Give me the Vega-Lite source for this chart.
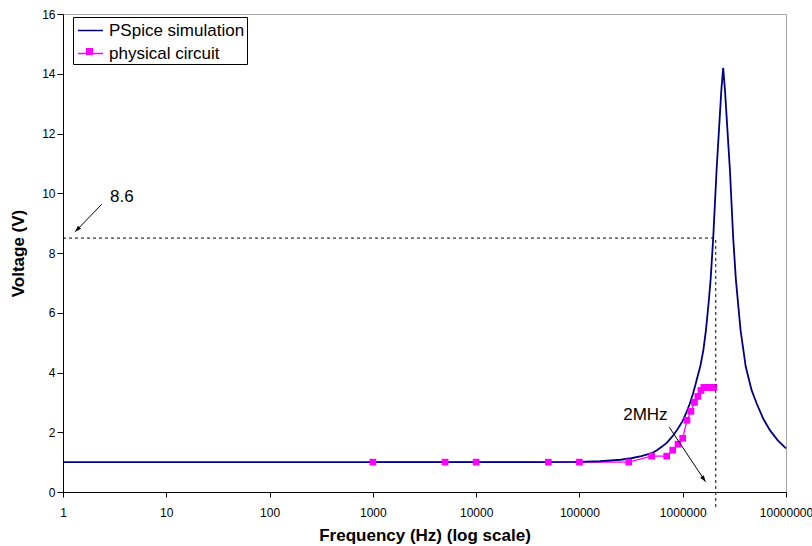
{
  "$schema": "https://vega.github.io/schema/vega-lite/v6.json",
  "width": 723,
  "height": 478,
  "autosize": {"type": "none"},
  "padding": {"left": 63, "top": 14, "right": 26, "bottom": 54},
  "config": {
    "font": "Liberation Sans",
    "view": {"stroke": "#a6a6a6", "strokeWidth": 1},
    "axis": {
      "grid": false,
      "domainColor": "black",
      "tickColor": "black",
      "labelColor": "black",
      "titleColor": "black",
      "labelFont": "Liberation Sans",
      "titleFont": "Liberation Sans",
      "labelFontSize": 12,
      "titleFontSize": 17,
      "titleFontWeight": "bold",
      "labelFlush": false,
      "labelOverlap": false,
      "labelBound": false
    }
  },
  "datasets": {
    "sim": [
      {"f": 1, "v": 1.0, "s": "PSpice simulation"},
      {"f": 10, "v": 1.0, "s": "PSpice simulation"},
      {"f": 100, "v": 1.0, "s": "PSpice simulation"},
      {"f": 1000, "v": 1.0, "s": "PSpice simulation"},
      {"f": 10000, "v": 1.0, "s": "PSpice simulation"},
      {"f": 31623, "v": 1.0, "s": "PSpice simulation"},
      {"f": 100000, "v": 1.01, "s": "PSpice simulation"},
      {"f": 158489, "v": 1.03, "s": "PSpice simulation"},
      {"f": 251189, "v": 1.08, "s": "PSpice simulation"},
      {"f": 316228, "v": 1.13, "s": "PSpice simulation"},
      {"f": 398107, "v": 1.2, "s": "PSpice simulation"},
      {"f": 501187, "v": 1.3, "s": "PSpice simulation"},
      {"f": 562341, "v": 1.4, "s": "PSpice simulation"},
      {"f": 630957, "v": 1.52, "s": "PSpice simulation"},
      {"f": 707946, "v": 1.66, "s": "PSpice simulation"},
      {"f": 794328, "v": 1.86, "s": "PSpice simulation"},
      {"f": 891251, "v": 2.1, "s": "PSpice simulation"},
      {"f": 1000000, "v": 2.38, "s": "PSpice simulation"},
      {"f": 1096478, "v": 2.7, "s": "PSpice simulation"},
      {"f": 1174898, "v": 2.97, "s": "PSpice simulation"},
      {"f": 1258925, "v": 3.3, "s": "PSpice simulation"},
      {"f": 1318257, "v": 3.55, "s": "PSpice simulation"},
      {"f": 1412538, "v": 3.95, "s": "PSpice simulation"},
      {"f": 1479108, "v": 4.2, "s": "PSpice simulation"},
      {"f": 1584893, "v": 4.75, "s": "PSpice simulation"},
      {"f": 1678804, "v": 5.42, "s": "PSpice simulation"},
      {"f": 1778279, "v": 6.3, "s": "PSpice simulation"},
      {"f": 1862087, "v": 7.1, "s": "PSpice simulation"},
      {"f": 1972423, "v": 8.49, "s": "PSpice simulation"},
      {"f": 2128139, "v": 10.78, "s": "PSpice simulation"},
      {"f": 2254239, "v": 12.23, "s": "PSpice simulation"},
      {"f": 2371374, "v": 13.5, "s": "PSpice simulation"},
      {"f": 2466039, "v": 14.2, "s": "PSpice simulation"},
      {"f": 2570396, "v": 13.4, "s": "PSpice simulation"},
      {"f": 2697739, "v": 12.23, "s": "PSpice simulation"},
      {"f": 2864178, "v": 10.78, "s": "PSpice simulation"},
      {"f": 3083188, "v": 8.49, "s": "PSpice simulation"},
      {"f": 3273407, "v": 7.1, "s": "PSpice simulation"},
      {"f": 3630781, "v": 5.42, "s": "PSpice simulation"},
      {"f": 4073803, "v": 4.2, "s": "PSpice simulation"},
      {"f": 4645145, "v": 3.41, "s": "PSpice simulation"},
      {"f": 5188000, "v": 2.97, "s": "PSpice simulation"},
      {"f": 6025596, "v": 2.45, "s": "PSpice simulation"},
      {"f": 6982324, "v": 2.07, "s": "PSpice simulation"},
      {"f": 8317638, "v": 1.73, "s": "PSpice simulation"},
      {"f": 10000000, "v": 1.46, "s": "PSpice simulation"}
    ],
    "phys": [
      {"f": 1000, "v": 1.0, "s": "physical circuit", "g": "physical circuit"},
      {"f": 5000, "v": 1.0, "s": "physical circuit", "g": "physical circuit"},
      {"f": 10000, "v": 1.0, "s": "physical circuit", "g": "physical circuit"},
      {"f": 50000, "v": 1.0, "s": "physical circuit", "g": "physical circuit"},
      {"f": 100000, "v": 1.0, "s": "physical circuit", "g": "physical circuit"},
      {"f": 300000, "v": 1.0, "s": "physical circuit", "g": "physical circuit"},
      {"f": 500000, "v": 1.2, "s": "physical circuit", "g": "physical circuit"},
      {"f": 700000, "v": 1.2, "s": "physical circuit", "g": "physical circuit"},
      {"f": 800000, "v": 1.4, "s": "physical circuit", "g": "physical circuit"},
      {"f": 900000, "v": 1.6, "s": "physical circuit", "g": "physical circuit"},
      {"f": 1000000, "v": 1.8, "s": "physical circuit", "g": "physical circuit"},
      {"f": 1100000, "v": 2.4, "s": "physical circuit", "g": "physical circuit"},
      {"f": 1200000, "v": 2.7, "s": "physical circuit", "g": "physical circuit"},
      {"f": 1300000, "v": 3.0, "s": "physical circuit", "g": "physical circuit"},
      {"f": 1400000, "v": 3.2, "s": "physical circuit", "g": "physical circuit"},
      {"f": 1500000, "v": 3.4, "s": "physical circuit", "g": "physical circuit"},
      {"f": 1600000, "v": 3.5, "s": "physical circuit", "g": "physical circuit"},
      {"f": 1700000, "v": 3.5, "s": "physical circuit", "g": "physical circuit"},
      {"f": 1800000, "v": 3.5, "s": "physical circuit", "g": "physical circuit"},
      {"f": 1900000, "v": 3.5, "s": "physical circuit", "g": "physical circuit"},
      {"f": 2000000, "v": 3.5, "s": "physical circuit", "g": "physical circuit"}
    ],
    "dash": [
      {"f": 1, "v": 8.5, "f2": 2090000, "v2": 8.5},
      {"f": 2090000, "v": -0.5, "f2": 2090000, "v2": 8.5}
    ],
    "arrows": [
      {"f": 2.37, "v": 9.63, "f2": 1.31, "v2": 8.71},
      {"f": 740000, "v": 2.17, "f2": 1663000, "v2": 0.345}
    ],
    "heads": [
      {"f": 1.31, "v": 8.71, "a": 224},
      {"f": 1663000, "v": 0.345, "a": 146}
    ],
    "labels": [
      {"f": 2.85, "v": 9.87, "t": "8.6"},
      {"f": 265500, "v": 2.58, "t": "2MHz"}
    ]
  },
  "encoding": {
    "x": {
      "field": "f",
      "type": "quantitative",
      "scale": {"type": "log", "domain": [1, 10000000]},
      "axis": {
        "title": "Frequency (Hz) (log scale)",
        "values": [1, 10, 100, 1000, 10000, 100000, 1000000, 10000000],
        "format": "d",
        "tickSize": 5,
        "labelPadding": 10,
        "titlePadding": 9
      }
    },
    "y": {
      "field": "v",
      "type": "quantitative",
      "scale": {"domain": [0, 16], "nice": false},
      "axis": {
        "title": "Voltage (V)",
        "values": [0, 2, 4, 6, 8, 10, 12, 14, 16],
        "tickSize": 6,
        "labelPadding": 2,
        "titlePadding": 14
      }
    }
  },
  "layer": [
    {
      "data": {"name": "phys"},
      "mark": {"type": "line", "strokeWidth": 1.3},
      "encoding": {
        "stroke": {
          "field": "s",
          "type": "nominal",
          "scale": {"domain": ["PSpice simulation", "physical circuit"], "range": ["#000080", "#FF00FF"]},
          "legend": {
            "orient": "none",
            "legendX": 10,
            "legendY": 3,
            "title": null,
            "strokeColor": "black",
            "padding": 2.5,
            "rowPadding": 4,
            "symbolType": "M-0.85,0H1.65",
            "symbolSize": 400,
            "symbolStrokeWidth": 1.5,
            "labelFontSize": 17,
            "labelColor": "black",
            "labelOffset": 11.5,
            "labelFont": "Liberation Sans"
          }
        }
      }
    },
    {
      "data": {"name": "sim"},
      "mark": {"type": "line", "strokeWidth": 1.8},
      "encoding": {
        "stroke": {"field": "s", "type": "nominal"}
      }
    },
    {
      "data": {"name": "phys"},
      "mark": {"type": "point", "shape": "square", "filled": true, "size": 45, "opacity": 1, "strokeWidth": 0},
      "encoding": {
        "fill": {
          "field": "g",
          "type": "nominal",
          "scale": {"domain": ["PSpice simulation ", "physical circuit"], "range": ["transparent", "#FF00FF"]},
          "legend": {
            "orient": "none",
            "legendX": 10,
            "legendY": 3,
            "title": null,
            "padding": 2.5,
            "rowPadding": 4,
            "symbolType": "M0.05,-0.35H0.75V0.35H0.05Z",
            "symbolSize": 400,
            "symbolStrokeWidth": 0,
            "symbolOpacity": 1,
            "labelFontSize": 17,
            "labelExpr": "''",
            "labelOffset": 11.5,
            "labelFont": "Liberation Sans"
          }
        }
      }
    },
    {
      "data": {"name": "dash"},
      "mark": {"type": "rule", "color": "black", "strokeWidth": 1, "strokeDash": [3, 3]},
      "encoding": {
        "x2": {"field": "f2"},
        "y2": {"field": "v2"}
      }
    },
    {
      "data": {"name": "arrows"},
      "mark": {"type": "rule", "color": "black", "strokeWidth": 1},
      "encoding": {
        "x2": {"field": "f2"},
        "y2": {"field": "v2"}
      }
    },
    {
      "data": {"name": "heads"},
      "mark": {"type": "point", "shape": "M0,0L-0.35,1L0.35,1Z", "filled": true, "color": "black", "size": 160, "opacity": 1, "strokeWidth": 0},
      "encoding": {
        "angle": {"field": "a", "type": "quantitative", "scale": null}
      }
    },
    {
      "data": {"name": "labels"},
      "mark": {"type": "text", "align": "left", "baseline": "middle", "fontSize": 17, "color": "black", "font": "Liberation Sans"},
      "encoding": {
        "text": {"field": "t", "type": "nominal"}
      }
    }
  ]
}
